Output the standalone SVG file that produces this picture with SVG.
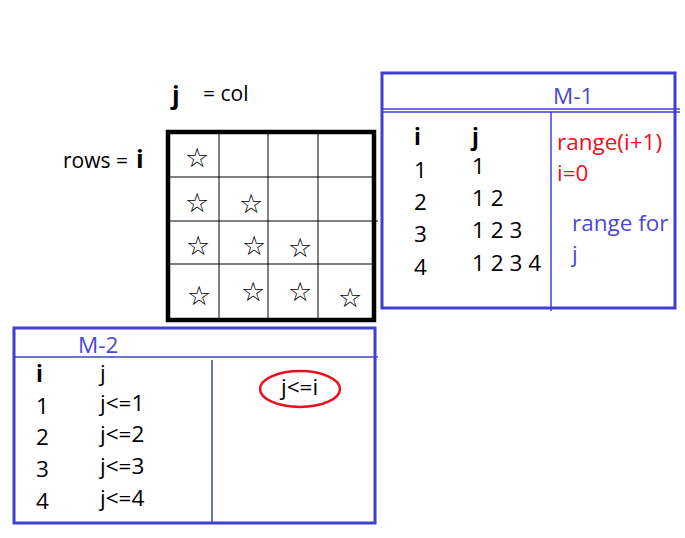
<svg xmlns="http://www.w3.org/2000/svg" width="685" height="538" viewBox="0 0 685 538">
<style>
.t{font-family:"Open Sans","Liberation Sans",sans-serif;font-size:22.5px;fill:#000}
.b{font-weight:bold}
.blue{fill:#4a4ad2}
.red{fill:#e8101e}
.star{font-family:"DejaVu Sans",sans-serif;font-size:27px;fill:#000;text-anchor:middle}
.bx{fill:none;stroke:#4040d0;stroke-width:3}
.ln{stroke:#4040d0;stroke-width:1.5;fill:none}
.gl{stroke:#000;stroke-width:1;fill:none}
</style>
<rect width="685" height="538" fill="#fff"/>
<g id="grid">
<text class="t b" x="172" y="104" style="font-size:25px">j</text>
<text class="t" x="203" y="101" style="font-size:21px">= col</text>
<text class="t" x="63" y="168" style="font-size:21px">rows =</text>
<text class="t b" x="136" y="168" style="font-size:25px">i</text>
<line class="gl" x1="219" y1="131" x2="219" y2="320"/>
<line class="gl" x1="268" y1="131" x2="268" y2="320"/>
<line class="gl" x1="318" y1="131" x2="318" y2="320"/>
<line class="gl" x1="167" y1="177" x2="375" y2="177"/>
<line class="gl" x1="167" y1="221" x2="378" y2="221"/>
<line class="gl" x1="167" y1="264" x2="375" y2="264"/>
<rect x="168" y="132" width="206" height="188" fill="none" stroke="#000" stroke-width="4.5"/>
<text class="star" x="197" y="167">☆</text>
<text class="star" x="197" y="212">☆</text>
<text class="star" x="251" y="213">☆</text>
<text class="star" x="198" y="255">☆</text>
<text class="star" x="254" y="255">☆</text>
<text class="star" x="300" y="257">☆</text>
<text class="star" x="199" y="305">☆</text>
<text class="star" x="253" y="301">☆</text>
<text class="star" x="300" y="301">☆</text>
<text class="star" x="350" y="307">☆</text>
</g>
<g id="m1">
<rect class="bx" x="382" y="73" width="293" height="235"/>
<line class="ln" x1="382" y1="109" x2="680" y2="109"/>
<line class="ln" x1="382" y1="112" x2="680" y2="112"/>
<line class="ln" x1="551" y1="112" x2="551" y2="311"/>
<text class="t blue" x="553" y="104">M-1</text>
<text class="t b" x="414" y="145">i</text>
<text class="t b" x="472" y="145">j</text>
<text class="t" x="414" y="178">1</text>
<text class="t" x="414" y="210">2</text>
<text class="t" x="414" y="242">3</text>
<text class="t" x="414" y="275">4</text>
<text class="t" x="472" y="174">1</text>
<text class="t" x="472" y="206">1 2</text>
<text class="t" x="472" y="238">1 2 3</text>
<text class="t" x="472" y="271">1 2 3 4</text>
<text class="t red" x="557" y="150">range(i+1)</text>
<text class="t red" x="557" y="181">i=0</text>
<text class="t blue" x="572" y="231">range for</text>
<text class="t blue" x="572" y="262">j</text>
</g>
<g id="m2">
<rect class="bx" x="14" y="328" width="361" height="195"/>
<line class="ln" x1="14" y1="357" x2="378" y2="357"/>
<line class="ln" x1="212" y1="360" x2="212" y2="523"/>
<text class="t blue" x="78" y="353">M-2</text>
<text class="t b" x="36" y="382">i</text>
<text class="t" x="100" y="381">j</text>
<text class="t" x="36" y="414">1</text>
<text class="t" x="36" y="445">2</text>
<text class="t" x="36" y="477">3</text>
<text class="t" x="36" y="509">4</text>
<text class="t" x="100" y="411">j&lt;=1</text>
<text class="t" x="100" y="442">j&lt;=2</text>
<text class="t" x="100" y="474">j&lt;=3</text>
<text class="t" x="100" y="506">j&lt;=4</text>
<ellipse cx="300" cy="389" rx="40" ry="18" fill="none" stroke="#e8101e" stroke-width="2.5"/>
<text class="t" x="281" y="395">j&lt;=i</text>
</g>
</svg>
